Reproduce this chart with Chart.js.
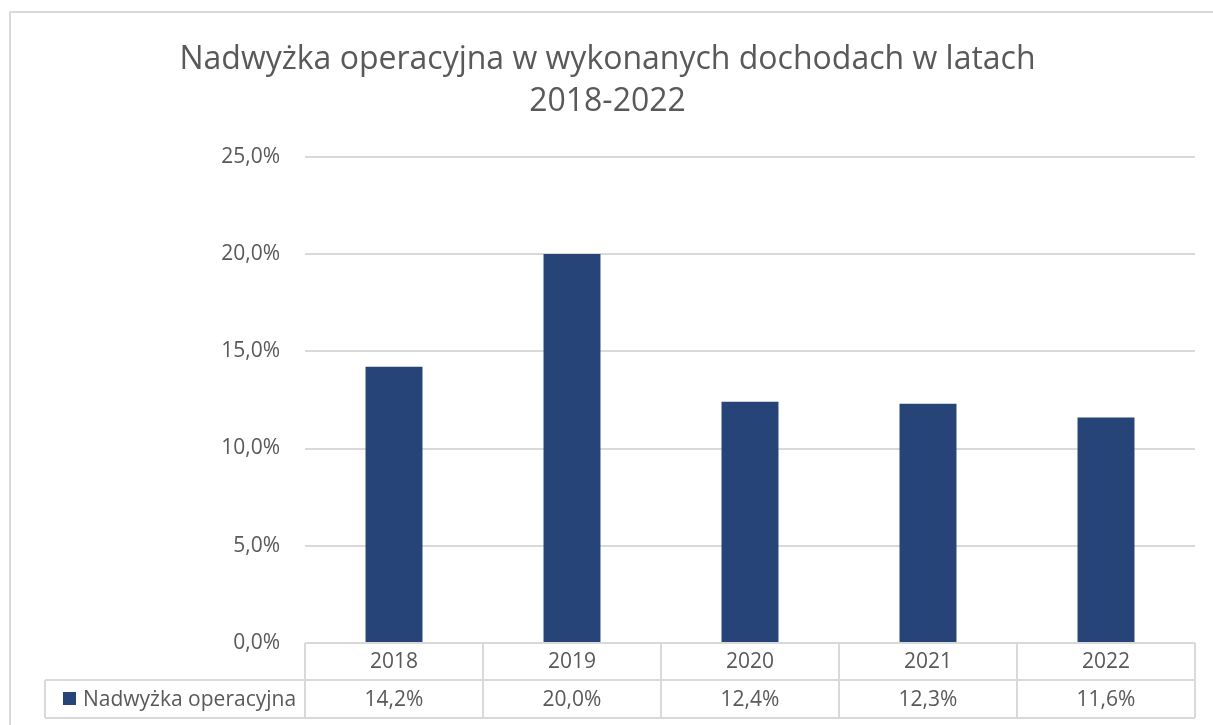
<!DOCTYPE html>
<html>
<head>
<meta charset="utf-8">
<script src="https://cdn.jsdelivr.net/npm/chart.js@4"></script>
<style>
  html, body { margin: 0; padding: 0; background: #fff; overflow: hidden; }
  canvas { display: block; }
</style>
</head>
<body>
<canvas id="wykres" width="1213" height="725"></canvas>
<script>
// dane z wykresu
var lata = ['2018', '2019', '2020', '2021', '2022'];
var nadwyzka = [14.2, 20.0, 12.4, 12.3, 11.6];
var nazwaSerii = 'Nadwyżka operacyjna';
var tytul = ['Nadwyżka operacyjna w wykonanych dochodach w latach', '2018-2022'];

var szary = '#d9d9d9';
var tekst = '#595959';
var niebieski = '#264478';
var czcionka = '"Open Sans", Lato, sans-serif';

function procent(v, miejsca) { // 14.2 -> "14,2%"
    return v.toFixed(miejsca).replace('.', ',') + '%';
}

// tabela danych pod wykresem (jak w Excelu)
var tabelaDanych = {
    id: 'tabelaDanych',
    afterDraw: function (chart) {
        var ctx = chart.ctx;
        var x = chart.scales.x;
        var area = chart.chartArea;
        var szer = (area.right - area.left) / lata.length;
        var y0 = area.bottom, y1 = y0 + 37, y2 = y1 + 38;
        var lewo = 45;

        ctx.save();
        // ramka calego wykresu
        ctx.strokeStyle = szary;
        ctx.lineWidth = 2;
        ctx.strokeRect(10, 12, 1400, 900);

        ctx.beginPath();
        ctx.moveTo(area.left, y0); ctx.lineTo(area.right, y0);
        ctx.moveTo(lewo, y1); ctx.lineTo(area.right, y1);
        ctx.moveTo(lewo, y2); ctx.lineTo(area.right, y2);
        ctx.moveTo(lewo, y1); ctx.lineTo(lewo, y2);
        for (var i = 0; i <= lata.length; i++) {
            var xx = area.left + i * szer;
            ctx.moveTo(xx, y0); ctx.lineTo(xx, y2);
        }
        ctx.stroke();

        ctx.fillStyle = tekst;
        ctx.font = '21px ' + czcionka;
        ctx.textAlign = 'center';
        ctx.textBaseline = 'middle';
        for (var j = 0; j < lata.length; j++) {
            var cx = x.getPixelForValue(j);
            ctx.fillText(lata[j], cx, (y0 + y1) / 2 + 1);
            ctx.fillText(procent(nadwyzka[j], 1), cx, (y1 + y2) / 2 + 1);
        }
        // legenda w tabeli
        ctx.fillStyle = niebieski;
        ctx.fillRect(63, (y1 + y2) / 2 - 7, 13, 13);
        ctx.fillStyle = tekst;
        ctx.textAlign = 'left';
        ctx.fillText(nazwaSerii, 83, (y1 + y2) / 2 + 1);
        ctx.restore();
    }
};

var ctx = document.getElementById('wykres');
var myChart = new Chart(ctx, {
    type: 'bar',
    data: {
        labels: lata,
        datasets: [{
            label: nazwaSerii,
            data: nadwyzka,
            backgroundColor: niebieski,
            borderWidth: 0,
            categoryPercentage: 1,
            barPercentage: 0.32
        }]
    },
    options: {
        responsive: false,
        animation: false,
        devicePixelRatio: 1,
        layout: {
            padding: { left: 20, right: 18, top: 0, bottom: 82 }
        },
        plugins: {
            legend: { display: false },
            tooltip: { enabled: false },
            title: {
                display: true,
                text: tytul,
                color: tekst,
                font: { family: czcionka, size: 32, weight: 'normal', lineHeight: 1.34 },
                padding: { top: 38, bottom: 33 }
            }
        },
        scales: {
            x: {
                display: false
            },
            y: {
                min: 0,
                max: 25,
                border: { display: false },
                grid: { color: szary, lineWidth: 2, drawTicks: false },
                ticks: {
                    stepSize: 5,
                    padding: 25,
                    color: tekst,
                    font: { family: czcionka, size: 21 },
                    callback: function (v) { return procent(v, 1); }
                },
                afterFit: function (scale) { scale.width = 285; }
            }
        }
    },
    plugins: [tabelaDanych]
});
</script>
</body>
</html>
